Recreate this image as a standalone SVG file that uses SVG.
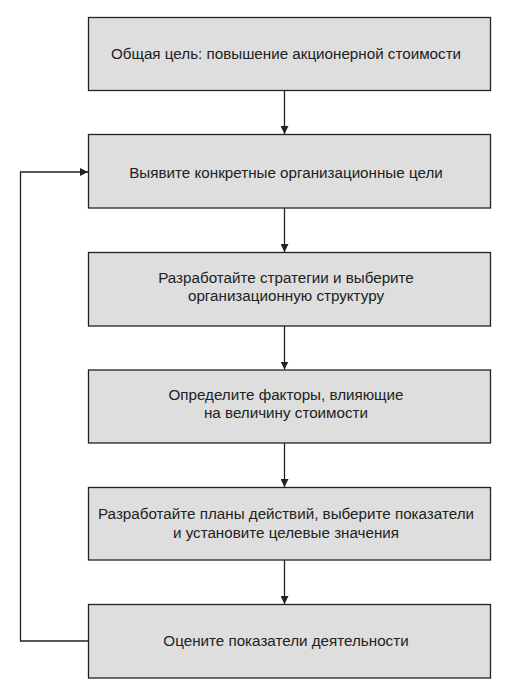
<svg xmlns="http://www.w3.org/2000/svg" width="514" height="694" viewBox="0 0 514 694">
<style>
.box{fill:#dedede;stroke:#222;stroke-width:1.3}
.t{font-family:"Liberation Sans",Arial,sans-serif;font-size:15.2px;fill:#222;text-anchor:middle}
.c{fill:none;stroke:#222;stroke-width:1.3}
</style>
<defs>
<marker id="ah" viewBox="0 0 10 10" refX="10" refY="5" markerWidth="8" markerHeight="8" markerUnits="userSpaceOnUse" orient="auto">
<path d="M0,0 L10,5 L0,10 Z" fill="#222"/>
</marker>
</defs>
<rect width="514" height="694" fill="#fff"/>
<g id="connectors">
<line class="c" x1="284.5" y1="90.5" x2="284.5" y2="134" marker-end="url(#ah)"/>
<line class="c" x1="284.5" y1="208" x2="284.5" y2="252" marker-end="url(#ah)"/>
<line class="c" x1="284.5" y1="326" x2="284.5" y2="369.5" marker-end="url(#ah)"/>
<line class="c" x1="284.5" y1="443" x2="284.5" y2="487" marker-end="url(#ah)"/>
<line class="c" x1="284.5" y1="560" x2="284.5" y2="604" marker-end="url(#ah)"/>
<polyline class="c" points="89,641 20.5,641 20.5,172 88,172" marker-end="url(#ah)"/>
</g>
<g id="n1"><rect class="box" x="88.5" y="17.5" width="402" height="73"/><text class="t" x="286" y="59">Общая цель: повышение акционерной стоимости</text></g>
<g id="n2"><rect class="box" x="88.5" y="134.5" width="402" height="73.5"/><text class="t" x="286" y="177.5">Выявите конкретные организационные цели</text></g>
<g id="n3"><rect class="box" x="88.5" y="252.5" width="402" height="73.5"/><text class="t" x="286" y="282.5">Разработайте стратегии и выберите</text><text class="t" x="286" y="301">организационную структуру</text></g>
<g id="n4"><rect class="box" x="88.5" y="370" width="402" height="73"/><text class="t" x="286" y="400">Определите факторы, влияющие</text><text class="t" x="286" y="418">на величину стоимости</text></g>
<g id="n5"><rect class="box" x="88.5" y="487.5" width="402" height="72.5"/><text class="t" x="286" y="519">Разработайте планы действий, выберите показатели</text><text class="t" x="286" y="537.5">и установите целевые значения</text></g>
<g id="n6"><rect class="box" x="88.5" y="604.5" width="402" height="73.5"/><text class="t" x="286" y="646">Оцените показатели деятельности</text></g>
</svg>
